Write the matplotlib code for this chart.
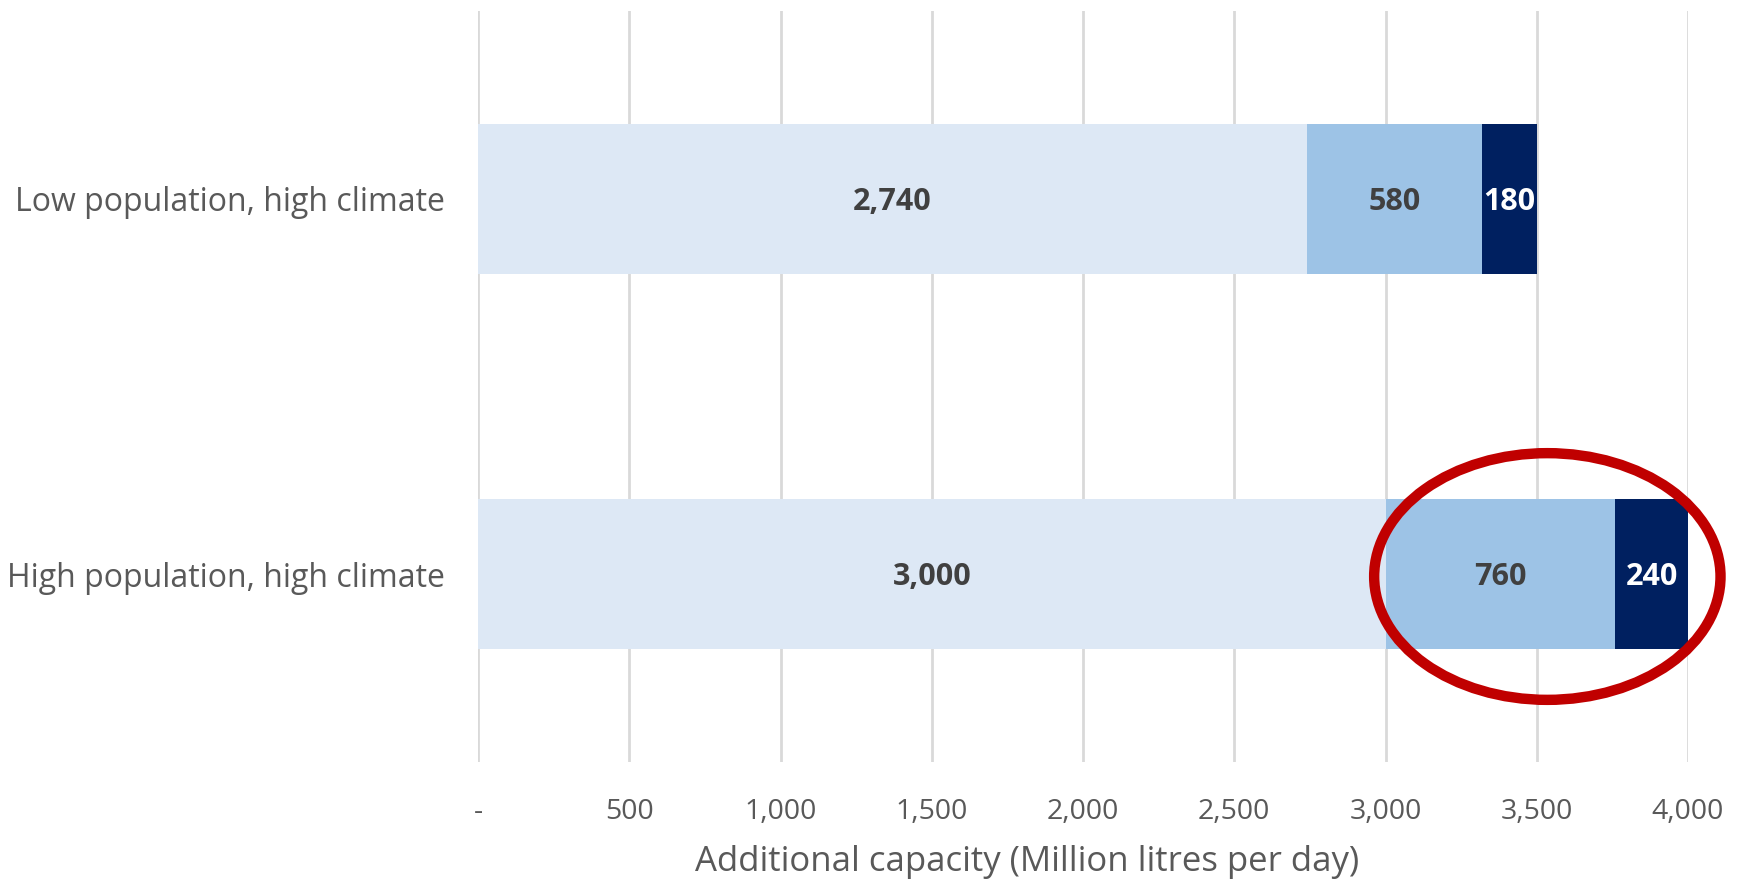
import matplotlib
matplotlib.use("Agg")
import matplotlib.pyplot as plt
from matplotlib.patches import Ellipse

plt.rcParams['font.family'] = ['Open Sans', 'DejaVu Sans']

categories = ["Low population, high climate", "High population, high climate"]
base = [2740, 3000]
mid = [580, 760]
top = [180, 240]
xticks = [0, 500, 1000, 1500, 2000, 2500, 3000, 3500, 4000]
xticklabels = ["-", "500", "1,000", "1,500", "2,000", "2,500", "3,000", "3,500", "4,000"]
xlabel = "Additional capacity (Million litres per day)"

c_light = "#DDE8F5"
c_mid = "#9DC3E6"
c_dark = "#002060"
grid_c = "#D9D9D9"
text_c = "#595959"

fig = plt.figure(figsize=(17.44, 8.85), dpi=100)
ax = fig.add_axes([478/1744, 1-762/885, (1688-478)/1744, (762-11)/885])

y = list(range(len(categories)))
h = 0.4
left1 = base
left2 = [b + m for b, m in zip(base, mid)]
ax.barh(y, base, height=h, color=c_light, zorder=2)
ax.barh(y, mid, left=left1, height=h, color=c_mid, zorder=2)
ax.barh(y, top, left=left2, height=h, color=c_dark, zorder=2)

for i in y:
    ax.text(base[i] / 2, i + 0.008, f"{base[i]:,}", ha="center", va="center",
            fontsize=22, fontweight="bold", color="#404040", zorder=3)
    ax.text(left1[i] + mid[i] / 2, i + 0.008, f"{mid[i]:,}", ha="center", va="center",
            fontsize=22, fontweight="bold", color="#404040", zorder=3)
    ax.text(left2[i] + top[i] / 2, i + 0.008, f"{top[i]:,}", ha="center", va="center",
            fontsize=22, fontweight="bold", color="white", zorder=3)

ax.set_xlim(0, 4000)
ax.set_ylim(len(categories) - 0.5, -0.5)
ax.set_xticks(xticks)
ax.set_xticklabels(xticklabels, fontsize=20.5, color=text_c)
ax.set_yticks(y)
ax.set_yticklabels(categories, fontsize=23, color=text_c)
ax.tick_params(axis="both", length=0)
ax.tick_params(axis="x", pad=26)
ax.tick_params(axis="y", pad=24)
for s in ax.spines.values():
    s.set_visible(False)
ax.grid(axis="x", color=grid_c, linewidth=2, zorder=0)
ax.set_axisbelow(True)
fig.text(1027/1744, 1-862/885, xlabel, fontsize=25, color=text_c,
         ha="center", va="center")

ell = Ellipse((3535, 1.006), width=1145, height=0.657, fill=False,
              edgecolor="#C00000", linewidth=7.5, zorder=4, clip_on=False)
ax.add_patch(ell)

fig.savefig("out.png", dpi=100)
